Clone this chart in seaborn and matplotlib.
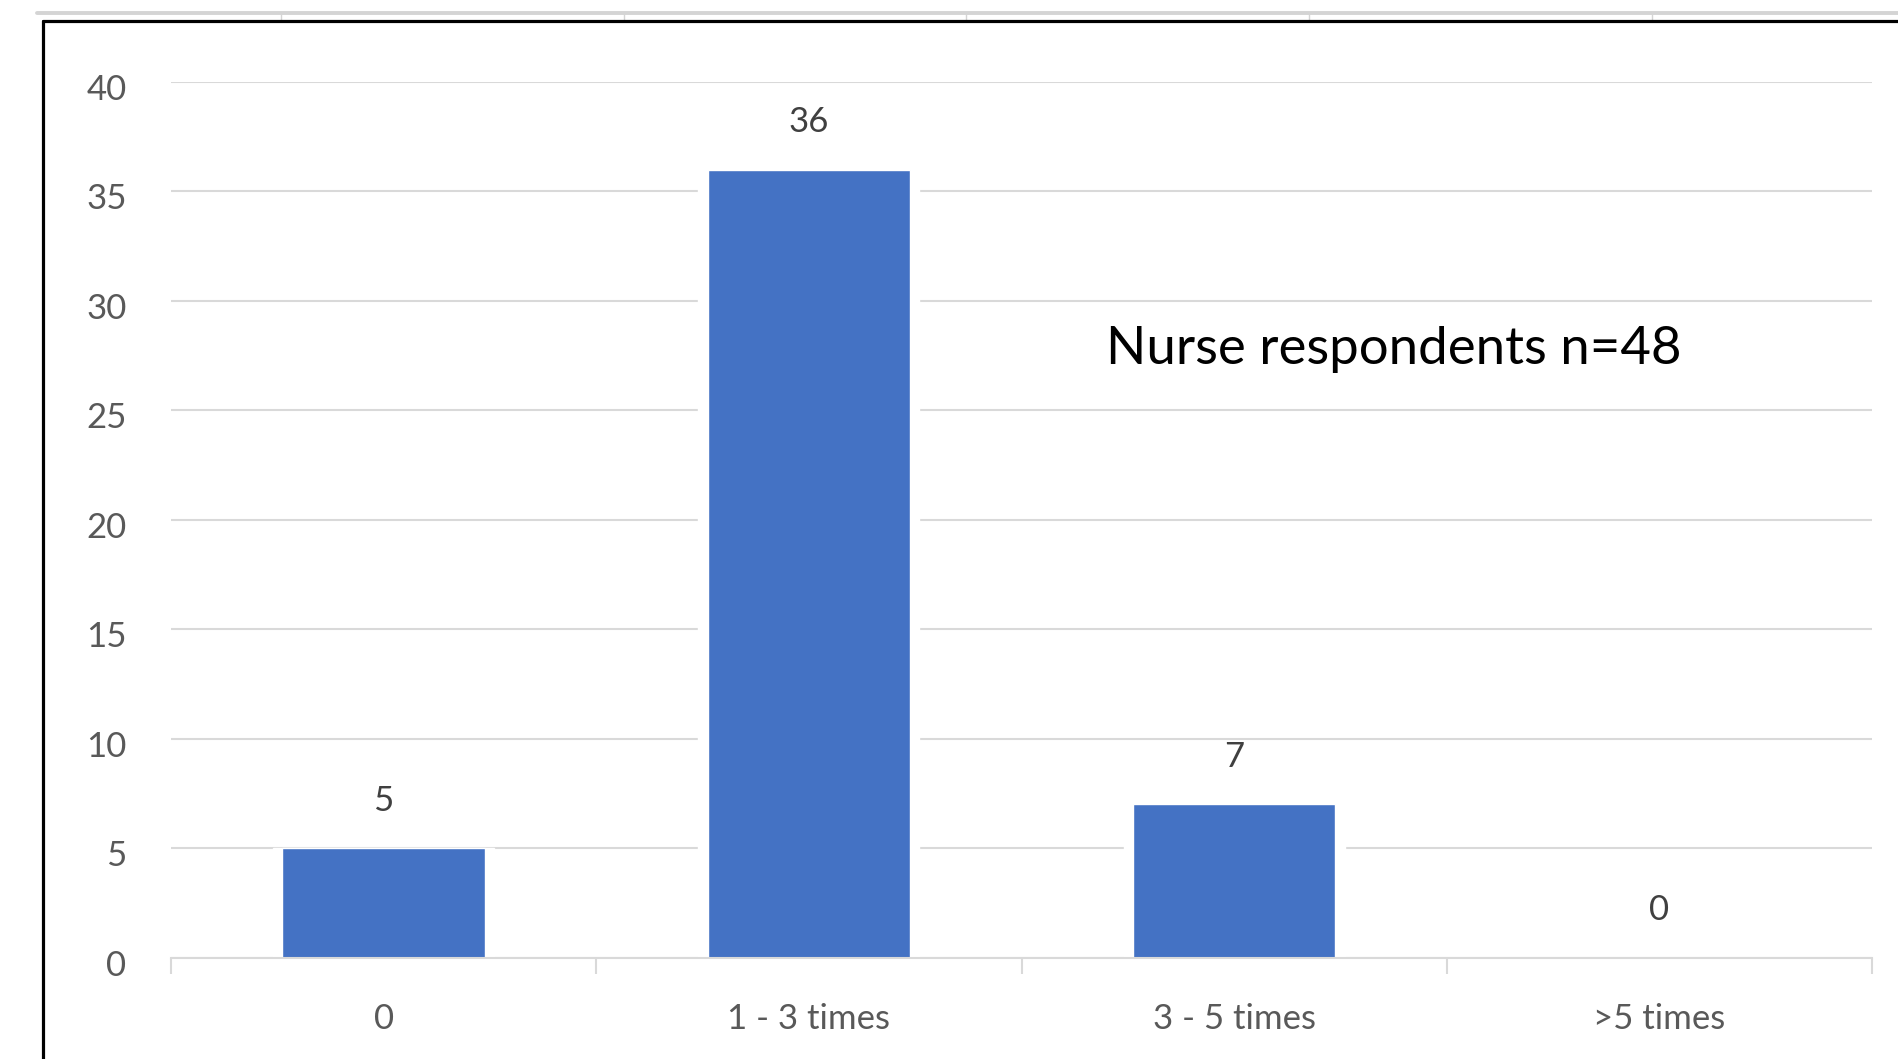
import pandas as pd
import matplotlib.pyplot as plt
import matplotlib.transforms as mtransforms
import seaborn as sns
from matplotlib.lines import Line2D

# Données
categories = ["0", "1 - 3 times", "3 - 5 times", ">5 times"]
counts = [5, 36, 7, 0]
y_ticks = [0, 5, 10, 15, 20, 25, 30, 35, 40]
note = "Nurse respondents n=48"

df = pd.DataFrame({"category": categories, "count": counts})

sns.set_style("white")
plt.rcParams["font.family"] = ["Lato", "DejaVu Sans"]

fig = plt.figure(figsize=(18.99, 10.59), dpi=100)
ax = fig.add_axes([171 / 1899, 101.5 / 1059, 1701 / 1899, 875.5 / 1059])

# barres blanches un peu plus larges pour couper les lignes de grille (style Excel)
sns.barplot(data=df, x="category", y="count", color="white", width=0.52,
            saturation=1, ax=ax, zorder=2)
sns.barplot(data=df, x="category", y="count", color="#4472C4", width=0.476,
            saturation=1, ax=ax, zorder=3)

ax.set_xlim(-0.5, 3.5)
ax.set_ylim(0, 40)
ax.set_yticks(y_ticks)
ax.set_axisbelow(True)
ax.yaxis.grid(True, color="#D9D9D9", linewidth=1.5)
ax.xaxis.grid(False)
ax.set_xlabel("")
ax.set_ylabel("")

for side in ["top", "left", "right"]:
    ax.spines[side].set_visible(False)
ax.spines["bottom"].set_color("#D9D9D9")
ax.spines["bottom"].set_linewidth(1.5)
ax.spines["bottom"].set_zorder(4)

# petits traits entre les catégories
ax.set_xticks([-0.5, 0.5, 1.5, 2.5, 3.5], minor=True)
ax.tick_params(axis="x", which="minor", bottom=True, length=11.5, width=1.5, color="#D9D9D9")
ax.tick_params(axis="x", which="major", length=0, pad=33, labelsize=25, labelcolor="#595959")
ax.tick_params(axis="y", length=0, pad=32, labelsize=25, labelcolor="#595959")
# les libellés Excel sont un peu sous la ligne de grille
shift = mtransforms.ScaledTranslation(0, -0.05, fig.dpi_scale_trans)
for tick in ax.yaxis.get_major_ticks():
    tick.label1.set_transform(tick.label1.get_transform() + shift)

# étiquettes de valeurs
for i, v in enumerate(counts):
    ax.annotate(str(v), (i, v), xytext=(0, 34), textcoords="offset points",
                ha="center", va="center", fontsize=25, color="#404040")

ax.text(2.376, 27.8, note, fontsize=38, ha="center", va="center", color="black")

# cadre de la capture d'écran
fig.add_artist(Line2D([37 / 1899, 1], [1 - 13 / 1059] * 2, transform=fig.transFigure,
                      color="#D4D4D4", linewidth=2.8))
for px in [281, 624, 966, 1309, 1652]:
    fig.add_artist(Line2D([px / 1899] * 2, [1 - 13 / 1059, 1 - 20 / 1059],
                          transform=fig.transFigure, color="#D4D4D4", linewidth=1))
fig.add_artist(Line2D([43 / 1899, 1], [1 - 21 / 1059] * 2, transform=fig.transFigure,
                      color="black", linewidth=2.3))
fig.add_artist(Line2D([43 / 1899] * 2, [0, 1 - 21 / 1059], transform=fig.transFigure,
                      color="black", linewidth=2.3))

fig.savefig("out.png", dpi=100)
